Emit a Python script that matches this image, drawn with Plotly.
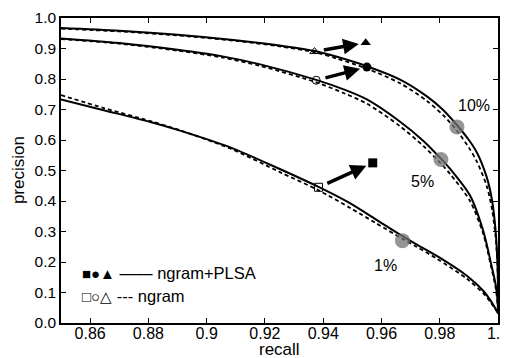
import plotly.graph_objects as go

# ---- data ----
x10_solid = [0.85, 0.87, 0.89, 0.91, 0.925, 0.9375, 0.945, 0.955, 0.9664, 0.9756, 0.981, 0.9858, 0.990, 0.9927, 0.9961, 0.998, 0.9992, 0.9998, 1.0, 1.0]
y10_solid = [0.967, 0.958, 0.945, 0.927, 0.91, 0.891, 0.872, 0.842, 0.798, 0.743, 0.70, 0.650, 0.60, 0.560, 0.479, 0.40, 0.30, 0.20, 0.12, 0.03]
x10_dash = [0.85, 0.87, 0.89, 0.91, 0.925, 0.9375, 0.945, 0.955, 0.9664, 0.9756, 0.981, 0.9858, 0.990, 0.9927, 0.9961, 0.998, 0.9992, 0.9998, 1.0, 1.0]
y10_dash = [0.965, 0.956, 0.943, 0.925, 0.907, 0.887, 0.866, 0.834, 0.786, 0.728, 0.683, 0.632, 0.575, 0.530, 0.45, 0.37, 0.28, 0.19, 0.11, 0.03]

x5_solid = [0.85, 0.87, 0.89, 0.905, 0.9184, 0.9376, 0.947, 0.955, 0.9664, 0.9744, 0.980, 0.9836, 0.9904, 0.995, 0.9975, 0.9993, 1.0, 1.0]
y5_solid = [0.933, 0.918, 0.896, 0.875, 0.848, 0.797, 0.766, 0.733, 0.660, 0.597, 0.543, 0.505, 0.418, 0.30, 0.20, 0.12, 0.05, 0.03]
x5_dash = [0.85, 0.87, 0.89, 0.905, 0.9184, 0.9376, 0.947, 0.955, 0.9664, 0.9744, 0.980, 0.9836, 0.9904, 0.995, 0.9975, 0.9993, 1.0, 1.0]
y5_dash = [0.931, 0.916, 0.893, 0.871, 0.843, 0.789, 0.754, 0.719, 0.645, 0.580, 0.527, 0.488, 0.400, 0.29, 0.19, 0.11, 0.04, 0.03]

x1_solid = [0.85, 0.865, 0.8807, 0.8911, 0.9081, 0.9253, 0.9384, 0.9493, 0.958, 0.9672, 0.972, 0.979, 0.9893, 0.995, 0.9973, 1.0]
y1_solid = [0.733, 0.697, 0.659, 0.630, 0.576, 0.504, 0.446, 0.392, 0.340, 0.285, 0.258, 0.220, 0.155, 0.105, 0.076, 0.033]
x1_dash = [0.85, 0.865, 0.8807, 0.8911, 0.9081, 0.9253, 0.9384, 0.9493, 0.958, 0.9672, 0.972, 0.979, 0.9893, 0.995, 0.9973, 1.0]
y1_dash = [0.747, 0.704, 0.662, 0.631, 0.572, 0.494, 0.435, 0.377, 0.328, 0.276, 0.250, 0.211, 0.145, 0.097, 0.070, 0.033]

# open (ngram) and filled (ngram+PLSA) markers: square, circle, triangle
open_x = [0.9384, 0.9376, 0.937]
open_y = [0.445, 0.796, 0.890]
filled_x = [0.957, 0.955, 0.9546]
filled_y = [0.525, 0.839, 0.919]
open_symbols = ["square-open", "circle-open", "triangle-up-open"]
filled_symbols = ["square", "circle", "triangle-up"]

# gray operating-point blobs and their labels
blob_x = [0.9672, 0.9804, 0.9859]
blob_y = [0.270, 0.536, 0.643]
label_text = ["1%", "5%", "10%"]
label_x = [0.9613, 0.9742, 0.9916]
label_y = [0.187, 0.463, 0.714]

x_ticks = [0.86, 0.88, 0.90, 0.92, 0.94, 0.96, 0.98, 1.00]
x_ticktext = ["0.86", "0.88", "0.9", "0.92", "0.94", "0.96", "0.98", "1.0"]
y_ticks = [0.0, 0.1, 0.2, 0.3, 0.4, 0.5, 0.6, 0.7, 0.8, 0.9, 1.0]
y_ticktext = ["0.0", "0.1", "0.2", "0.3", "0.4", "0.5", "0.6", "0.7", "0.8", "0.9", "1.0"]

legend_markers = ["■●▲", "□○△"]
legend_lines = ["——", "---"]
legend_names = ["ngram+PLSA", "ngram"]
legend_y = [0.164, 0.087]

FONT = "Liberation Sans, Arial, sans-serif"

fig = go.Figure()

for xs, ys in [(x10_dash, y10_dash), (x5_dash, y5_dash), (x1_dash, y1_dash)]:
    fig.add_trace(go.Scatter(x=xs, y=ys, mode="lines", line=dict(color="black", width=1.8, dash="4px,3px"),
                             line_shape="spline", line_smoothing=0.8, hoverinfo="skip", showlegend=False))
for xs, ys in [(x10_solid, y10_solid), (x5_solid, y5_solid), (x1_solid, y1_solid)]:
    fig.add_trace(go.Scatter(x=xs, y=ys, mode="lines", line=dict(color="black", width=2),
                             line_shape="spline", line_smoothing=0.8, hoverinfo="skip", showlegend=False))

fig.add_trace(go.Scatter(x=blob_x, y=blob_y, mode="markers",
                         marker=dict(symbol="circle", size=15, color="rgba(115,115,115,0.75)",
                                     line=dict(width=0)), showlegend=False))

fig.add_trace(go.Scatter(x=open_x, y=open_y, mode="markers",
                         marker=dict(symbol=open_symbols, size=8, color="black", line=dict(width=1)),
                         showlegend=False))
fig.add_trace(go.Scatter(x=filled_x, y=filled_y, mode="markers",
                         marker=dict(symbol=filled_symbols, size=9, color="black"),
                         showlegend=False))

for ox, oy, fx, fy in zip(open_x, open_y, filled_x, filled_y):
    fig.add_annotation(x=fx, y=fy, ax=ox, ay=oy, xref="x", yref="y", axref="x", ayref="y",
                       text="", showarrow=True, arrowhead=2, arrowsize=0.9, arrowwidth=3.5,
                       arrowcolor="black", standoff=7, startstandoff=8)

for t, lx, ly in zip(label_text, label_x, label_y):
    fig.add_annotation(x=lx, y=ly, text=t, showarrow=False, font=dict(family=FONT, size=16, color="black"))

for m, ln, nm, ly in zip(legend_markers, legend_lines, legend_names, legend_y):
    fig.add_annotation(x=0.8565, y=ly, showarrow=False, xanchor="left",
                       text="<span style='font-size:15px'>" + m + "</span> " + ln + " " + nm,
                       font=dict(family=FONT, size=16.5, color="black"))

# axis titles
fig.add_annotation(xref="paper", yref="paper", x=0.5, y=-0.087, text="recall", showarrow=False,
                   yanchor="middle", font=dict(family=FONT, size=17, color="black"))
fig.add_annotation(xref="paper", yref="paper", x=-0.097, y=0.5, text="precision", showarrow=False,
                   textangle=-90, xanchor="center", font=dict(family=FONT, size=17, color="black"))

# the page adds an 8px body margin, so the figure is 500x350 and its margins are shifted
fig.update_layout(
    width=500, height=350,
    margin=dict(l=52.5, r=10, t=9.5, b=34.7, autoexpand=False),
    paper_bgcolor="white", plot_bgcolor="white",
    font=dict(family=FONT, size=16, color="black"),
)
fig.update_xaxes(range=[0.85, 1.0], tickvals=x_ticks, ticktext=x_ticktext, ticks="inside", ticklen=5,
                 tickwidth=1.2, tickcolor="black", showline=True, linecolor="black", linewidth=1.5,
                 mirror="ticks", showgrid=False, zeroline=False, tickfont=dict(size=16),
                 ticklabeloverflow="allow", ticklabelstandoff=-5, automargin=False)
fig.update_yaxes(range=[0.0, 1.0], tickvals=y_ticks, ticktext=y_ticktext, ticks="inside", ticklen=5,
                 tickwidth=1.2, tickcolor="black", showline=True, linecolor="black", linewidth=1.5,
                 mirror="ticks", showgrid=False, zeroline=False, tickfont=dict(size=15.5), automargin=False)

fig.write_html("out.html")
